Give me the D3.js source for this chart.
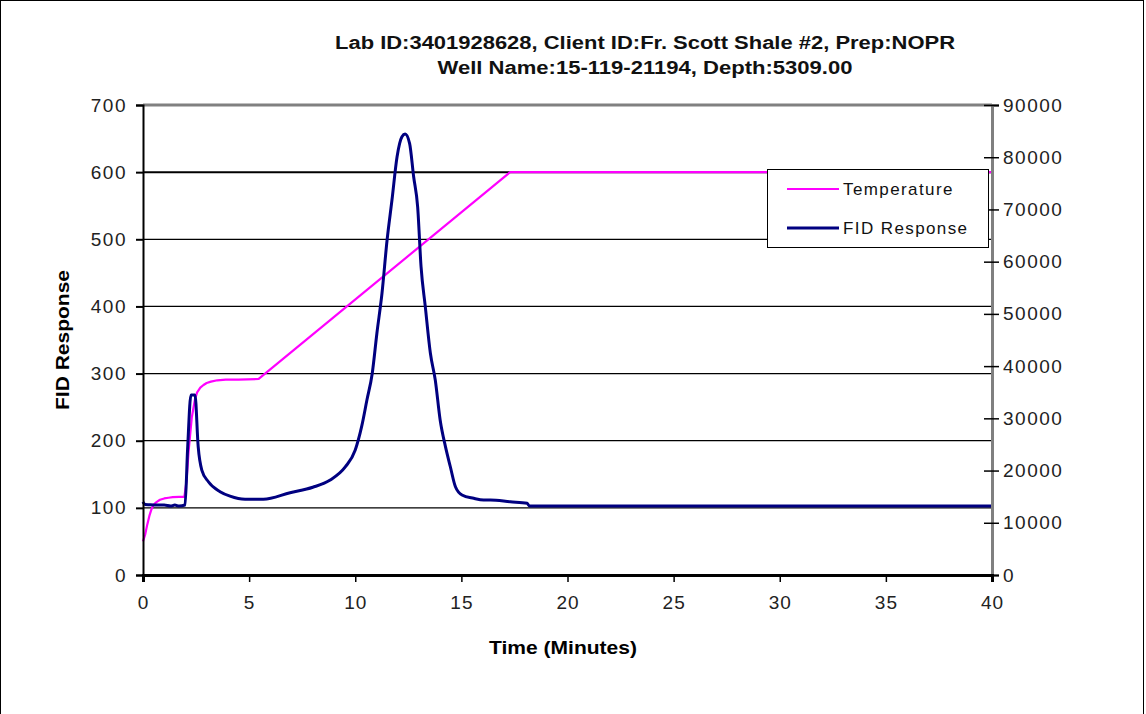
<!DOCTYPE html>
<html>
<head>
<meta charset="utf-8">
<script src="https://cdn.jsdelivr.net/npm/d3@7"></script>
<style>
  body { margin: 0; background: #fff; }
  svg { display: block; font-family: "Liberation Sans", Arial, sans-serif; }
</style>
</head>
<body>
<div class="chart"></div>
<script>
// data
var titleLines = ["Lab ID:3401928628,  Client ID:Fr. Scott Shale #2, Prep:NOPR",
                  "Well Name:15-119-21194,  Depth:5309.00"];
var titleWidths = [620, 415];

var xTicks = [0, 5, 10, 15, 20, 25, 30, 35, 40];
var leftTicks = [0, 100, 200, 300, 400, 500, 600, 700];
var rightTicks = [0, 10000, 20000, 30000, 40000, 50000, 60000, 70000, 80000, 90000];

// temperature (left axis)
var tempTime = [0, 0.1, 0.2, 0.3, 0.4, 0.5, 0.65, 0.8, 1.0, 1.2, 1.4, 1.7, 1.95, 2.05, 2.15, 2.3, 2.45, 2.55, 2.7,
  2.85, 3.0, 3.2, 3.5, 3.9, 4.5, 5.45, 17.3, 40];
var tempValue = [50, 60, 75, 88, 98, 105, 109, 112, 114, 115, 116, 116.5, 116.5, 140, 185, 235, 262, 272, 279,
  283, 286, 288, 290, 291, 291, 292, 600, 600];

// FID response (right axis)
var fidTime = [0, 0.1, 0.3, 0.6, 1.0, 1.3, 1.5, 1.7, 1.98, 2.1, 2.26, 2.45, 2.6, 2.77, 3.08, 3.63, 4.1, 4.81, 5.67, 6.93,
  8.0, 8.82, 9.53, 10.0, 10.3, 10.55, 10.8, 11.02, 11.26, 11.5, 11.73, 11.97, 12.2, 12.35, 12.56, 12.75, 12.94,
  13.1, 13.3, 13.54, 13.77, 14.0, 14.25, 14.48, 14.72, 15.03, 15.58, 16.05, 16.37, 17.3, 18.1, 18.2, 40];
var fidValue = [14000, 13500, 13450, 13400, 13400, 13200, 13400, 13200, 13400, 24000, 34460, 34460, 24560, 20100, 17860,
  15950, 15100, 14500, 14500, 15760, 16800, 18190, 20700, 23930, 28400, 33500, 38600, 46300, 53950, 64150, 71800,
  80100, 83930, 84450, 82670, 76300, 70500, 59040, 51380, 42450, 37340, 29690, 24580, 20730, 16900, 15320, 14680,
  14360, 14360, 14020, 13730, 13210, 13210];

var seriesNames = ["Temperature", "FID Response"];
var seriesColors = ["#ff00ff", "#000080"];

var svgWidth = 1146;
var svgHeight = 714;
var margin = { top: 105, right: 154, bottom: 139, left: 143 };
var width = svgWidth - margin.left - margin.right;
var height = svgHeight - margin.top - margin.bottom;

var svg = d3.select(".chart").append("svg")
  .attr("width", svgWidth)
  .attr("height", svgHeight);

// outer frame
svg.append("rect")
  .attr("x", 0.5).attr("y", 0.5)
  .attr("width", svgWidth - 3).attr("height", svgHeight + 10)
  .attr("fill", "none").attr("stroke", "#000").attr("stroke-width", 1);

var chartGroup = svg.append("g")
  .attr("transform", `translate(${margin.left}, ${margin.top})`);

var xScale = d3.scaleLinear().domain([0, 40]).range([0, width]);
var yLeft = d3.scaleLinear().domain([0, 700]).range([height, 0]);
var yRight = d3.scaleLinear().domain([0, 90000]).range([height, 0]);

// gridlines
chartGroup.append("g")
  .selectAll("line")
  .data(leftTicks.filter(d => d > 0 && d < 700))
  .enter().append("line")
  .attr("x1", 0).attr("x2", width)
  .attr("y1", d => yLeft(d)).attr("y2", d => yLeft(d))
  .attr("stroke", "#000")
  .attr("stroke-width", d => d === 600 ? 2 : 1.2);

// top border (grey)
chartGroup.append("line")
  .attr("x1", 0).attr("x2", width).attr("y1", 0).attr("y2", 0)
  .attr("stroke", "#808080").attr("stroke-width", 3);

// lines
var tempData = tempTime.map((t, i) => [t, tempValue[i]]);
var fidData = fidTime.map((t, i) => [t, fidValue[i]]);

var tempLine = d3.line().x(d => xScale(d[0])).y(d => yLeft(d[1]));
var fidLine = d3.line().x(d => xScale(d[0])).y(d => yRight(d[1])).curve(d3.curveMonotoneX);

chartGroup.append("path")
  .datum(tempData)
  .attr("d", tempLine)
  .attr("fill", "none")
  .attr("stroke", seriesColors[0])
  .attr("stroke-width", 2.2)
  .attr("stroke-linejoin", "round");

chartGroup.append("path")
  .datum(fidData)
  .attr("d", fidLine)
  .attr("fill", "none")
  .attr("stroke", seriesColors[1])
  .attr("stroke-width", 3)
  .attr("stroke-linejoin", "round");

var tickFont = "Liberation Sans, Arial, sans-serif";

// left axis
var leftAxis = d3.axisLeft(yLeft).tickValues(leftTicks).tickSize(7).tickPadding(9);
var gl = chartGroup.append("g").call(leftAxis);
gl.select(".domain").attr("stroke", "#000").attr("stroke-width", 2);
gl.selectAll(".tick line").attr("stroke", "#000").attr("stroke-width", 2);
gl.selectAll("text").attr("font-size", 19).attr("letter-spacing", 1.5).attr("fill", "#222")
  .attr("font-family", tickFont);

// right axis
var rightAxis = d3.axisRight(yRight).tickValues(rightTicks).tickSize(7).tickFormat(d3.format("d"));
var gr = chartGroup.append("g")
  .attr("transform", `translate(${width}, 0)`)
  .call(rightAxis);
gr.select(".domain").attr("stroke", "#808080").attr("stroke-width", 3);
gr.selectAll(".tick line").attr("x1", -8).attr("stroke", "#000").attr("stroke-width", 1.5);
gr.selectAll("text").attr("font-size", 19).attr("letter-spacing", 1.5).attr("fill", "#222").attr("x", 11)
  .attr("font-family", tickFont);

// bottom axis
var bottomAxis = d3.axisBottom(xScale).tickValues(xTicks).tickSize(7).tickPadding(14);
var gb = chartGroup.append("g")
  .attr("transform", `translate(0, ${height})`)
  .call(bottomAxis);
gb.select(".domain").attr("stroke", "#000").attr("stroke-width", 3);
gb.selectAll(".tick line").attr("stroke", "#000").attr("stroke-width", 1.5);
gb.selectAll("text").attr("font-size", 19).attr("letter-spacing", 1).attr("fill", "#222")
  .attr("font-family", tickFont);

// title
svg.append("g").selectAll("text")
  .data(titleLines)
  .enter().append("text")
  .attr("x", 645)
  .attr("y", (d, i) => 49 + i * 25)
  .attr("text-anchor", "middle")
  .attr("font-size", 18)
  .attr("font-weight", "bold")
  .attr("fill", "#111")
  .attr("textLength", (d, i) => titleWidths[i])
  .attr("lengthAdjust", "spacingAndGlyphs")
  .text(d => d);

// axis titles
svg.append("text")
  .attr("transform", "translate(69, 340) rotate(-90)")
  .attr("text-anchor", "middle")
  .attr("font-size", 19)
  .attr("font-weight", "bold")
  .attr("textLength", 140)
  .attr("lengthAdjust", "spacingAndGlyphs")
  .text("FID Response");

svg.append("text")
  .attr("x", 563).attr("y", 654)
  .attr("text-anchor", "middle")
  .attr("font-size", 19)
  .attr("font-weight", "bold")
  .attr("textLength", 148)
  .attr("lengthAdjust", "spacingAndGlyphs")
  .text("Time (Minutes)");

// legend
var legend = svg.append("g").attr("transform", "translate(767, 169)");
legend.append("rect")
  .attr("x", 0.5).attr("y", 0.5)
  .attr("width", 221).attr("height", 78)
  .attr("fill", "#fff").attr("stroke", "#000").attr("stroke-width", 1);

var items = legend.selectAll(".item")
  .data(seriesNames)
  .enter().append("g")
  .attr("transform", (d, i) => `translate(0, ${20 + i * 39})`);

items.append("line")
  .attr("x1", 20).attr("x2", 72)
  .attr("stroke", (d, i) => seriesColors[i])
  .attr("stroke-width", (d, i) => i === 0 ? 2 : 3);

items.append("text")
  .attr("x", 76).attr("y", 6)
  .attr("font-size", 17)
  .attr("letter-spacing", 1.4)
  .attr("fill", "#111")
  .text(d => d);
</script>
</body>
</html>
